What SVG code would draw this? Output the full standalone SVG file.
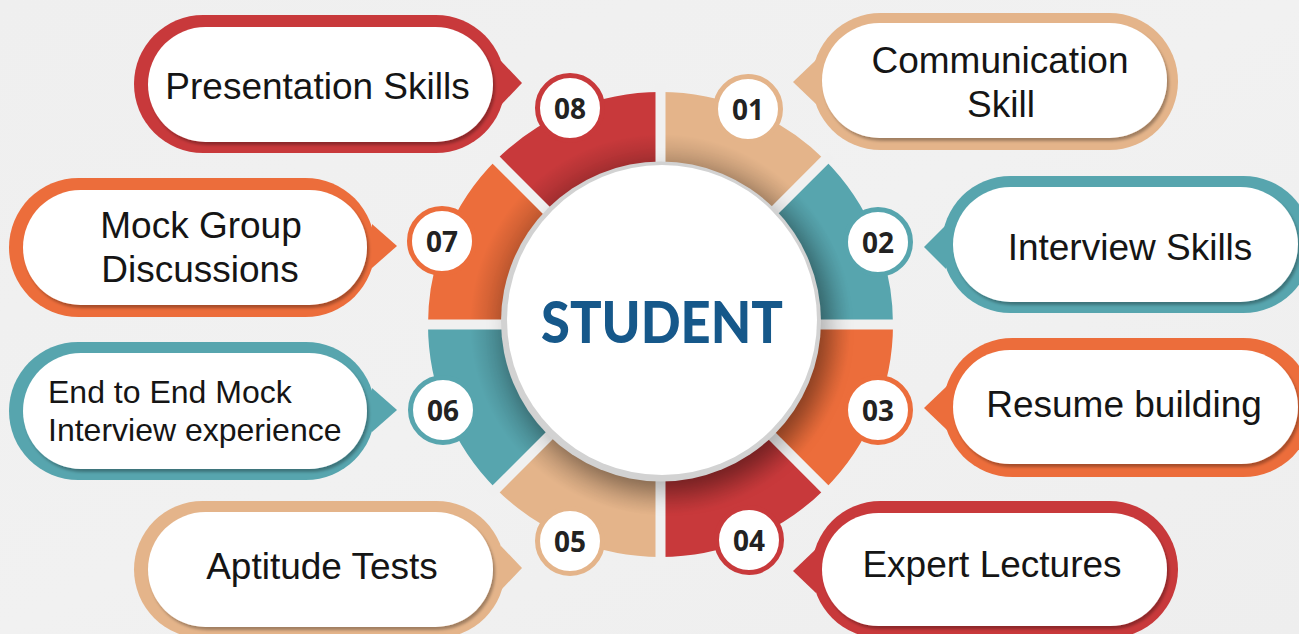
<svg xmlns="http://www.w3.org/2000/svg" width="1299" height="634" viewBox="0 0 1299 634">
<defs>
<linearGradient id="bg" x1="0" y1="0" x2="1" y2="1">
<stop offset="0" stop-color="#efefef"/>
<stop offset="0.5" stop-color="#f1f1f1"/>
<stop offset="1" stop-color="#eeeeee"/>
</linearGradient>
<filter id="pillsh" x="-10%" y="-20%" width="120%" height="150%">
<feDropShadow dx="2" dy="3" stdDeviation="1.6" flood-color="#000" flood-opacity="0.3"/>
</filter>
<filter id="blur12" x="-30%" y="-30%" width="160%" height="160%">
<feGaussianBlur stdDeviation="12"/>
</filter>
<radialGradient id="ringshade" cx="660.5" cy="324.5" r="232.5" gradientUnits="userSpaceOnUse">
<stop offset="0.66" stop-color="#000" stop-opacity="0.22"/>
<stop offset="0.82" stop-color="#000" stop-opacity="0"/>
</radialGradient>
<style>
.peach{fill:#e4b48a}
.teal{fill:#57a5ae}
.orange{fill:#ec6d3b}
.red{fill:#c8393b}
.bpeach{stroke:#e4b48a}
.bteal{stroke:#57a5ae}
.borange{stroke:#ec6d3b}
.bred{stroke:#c8393b}
.badge{fill:#ffffff;stroke-width:5}
.pill{fill:#ffffff;filter:url(#pillsh)}
.lbl{font-family:"Liberation Sans",Arial,sans-serif;font-size:37px;fill:#151515;text-anchor:middle}
.num{font-family:"Open Sans","Liberation Sans",sans-serif;font-weight:700;font-size:28px;fill:#222222;text-anchor:middle}
.gap{stroke:#f0f0f0;stroke-width:10}
</style>
</defs>
<rect x="0" y="0" width="1299" height="634" fill="url(#bg)"/>

<g id="ring">
<path class="peach" d="M660.5,92 A232.5,232.5 0 0 1 824.9,160.1 L759.49,225.51 A140,140 0 0 0 660.5,184.5 Z"/>
<path class="teal" d="M824.9,160.1 A232.5,232.5 0 0 1 893,324.5 L800.5,324.5 A140,140 0 0 0 759.49,225.51 Z"/>
<path class="orange" d="M893,324.5 A232.5,232.5 0 0 1 824.9,488.9 L759.49,423.49 A140,140 0 0 0 800.5,324.5 Z"/>
<path class="red" d="M824.9,488.9 A232.5,232.5 0 0 1 660.5,557 L660.5,464.5 A140,140 0 0 0 759.49,423.49 Z"/>
<path class="peach" d="M660.5,557 A232.5,232.5 0 0 1 496.1,488.9 L561.51,423.49 A140,140 0 0 0 660.5,464.5 Z"/>
<path class="teal" d="M496.1,488.9 A232.5,232.5 0 0 1 428,324.5 L520.5,324.5 A140,140 0 0 0 561.51,423.49 Z"/>
<path class="orange" d="M428,324.5 A232.5,232.5 0 0 1 496.1,160.1 L561.51,225.51 A140,140 0 0 0 520.5,324.5 Z"/>
<path class="red" d="M496.1,160.1 A232.5,232.5 0 0 1 660.5,92 L660.5,184.5 A140,140 0 0 0 561.51,225.51 Z"/>
<circle cx="660.5" cy="324.5" r="232.5" fill="url(#ringshade)"/>
<line class="gap" x1="660.5" y1="84" x2="660.5" y2="565"/>
<line class="gap" x1="420" y1="324.5" x2="901" y2="324.5"/>
<line class="gap" x1="490.4" y1="154.4" x2="830.6" y2="494.6"/>
<line class="gap" x1="830.6" y1="154.4" x2="490.4" y2="494.6"/>
</g>

<g id="center">
<circle cx="670" cy="332" r="160" fill="#000" opacity="0.28" filter="url(#blur12)"/>
<circle cx="661" cy="321.5" r="160" fill="#d2d2d2"/>
<circle cx="662" cy="320" r="155" fill="#ffffff"/>
<text x="662" y="343" font-family="Lato,'Open Sans',sans-serif" font-weight="900" font-size="58" fill="#16588a" text-anchor="middle" textLength="242" lengthAdjust="spacingAndGlyphs">STUDENT</text>
</g>

<g id="node01">
<rect class="peach" x="812" y="13" width="366" height="137" rx="68.5"/>
<rect class="pill" x="822" y="23" width="345" height="115" rx="57.5"/>
<text class="lbl" x="1000" y="73">Communication</text>
<text class="lbl" x="1001" y="117">Skill</text>
<circle class="badge bpeach" cx="748" cy="109" r="32.5"/>
<text class="num" x="748" y="120">01</text>
</g>

<g id="node02">
<rect class="teal" x="942" y="176" width="370" height="137" rx="68.5"/>
<rect class="pill" x="953" y="187" width="345" height="115" rx="57.5"/>
<text class="lbl" x="1130" y="260">Interview Skills</text>
<circle class="badge bteal" cx="878" cy="242" r="32.5"/>
<text class="num" x="878" y="253">02</text>
</g>

<g id="node03">
<rect class="orange" x="943" y="338" width="370" height="139" rx="69.5"/>
<rect class="pill" x="953" y="350" width="345" height="114" rx="57"/>
<text class="lbl" x="1124" y="417">Resume building</text>
<circle class="badge borange" cx="878" cy="410" r="32.5"/>
<text class="num" x="878" y="421">03</text>
</g>

<g id="node04">
<rect class="red" x="812" y="501" width="366" height="137" rx="68.5"/>
<rect class="pill" x="822" y="513" width="345" height="113" rx="56.5"/>
<text class="lbl" x="992" y="577">Expert Lectures</text>
<circle class="badge bred" cx="749" cy="540" r="32.5"/>
<text class="num" x="749" y="551">04</text>
</g>

<g id="node05">
<rect class="peach" x="134" y="501" width="371" height="137" rx="68.5"/>
<rect class="pill" x="148" y="512" width="345" height="115" rx="57.5"/>
<text class="lbl" x="322" y="579">Aptitude Tests</text>
<circle class="badge bpeach" cx="570" cy="541" r="32.5"/>
<text class="num" x="570" y="552">05</text>
</g>

<g id="node06">
<rect class="teal" x="9" y="342" width="366" height="138" rx="69"/>
<rect class="pill" x="23" y="353" width="344" height="116" rx="58"/>
<text class="lbl" x="48" y="403" style="font-size:32px;text-anchor:start">End to End Mock</text>
<text class="lbl" x="48" y="441" style="font-size:32px;text-anchor:start">Interview experience</text>
<circle class="badge bteal" cx="443" cy="410" r="32.5"/>
<text class="num" x="443" y="421">06</text>
</g>

<g id="node07">
<rect class="orange" x="9" y="178" width="366" height="139" rx="69.5"/>
<rect class="pill" x="23" y="190" width="344" height="115" rx="57.5"/>
<text class="lbl" x="201" y="238">Mock Group</text>
<text class="lbl" x="200" y="282">Discussions</text>
<circle class="badge borange" cx="442" cy="241" r="32.5"/>
<text class="num" x="442" y="252">07</text>
</g>

<g id="node08">
<rect class="red" x="134" y="15" width="371" height="138" rx="69"/>
<rect class="pill" x="148" y="27" width="345" height="115" rx="57.5"/>
<text class="lbl" x="317.5" y="99">Presentation Skills</text>
<circle class="badge bred" cx="570" cy="108" r="32.5"/>
<text class="num" x="570" y="119">08</text>
</g>

<g id="connectors">
<path class="peach" d="M816,60 L793,82 L816,104 Z"/>
<path class="teal" d="M946,225 L924,247 L946,269 Z"/>
<path class="orange" d="M947,386 L924,408 L947,430 Z"/>
<path class="red" d="M816,549 L793,571 L816,593 Z"/>
<path class="peach" d="M501,546 L522,568 L501,590 Z"/>
<path class="teal" d="M372,388 L397,410 L372,432 Z"/>
<path class="orange" d="M372,224 L397,246 L372,268 Z"/>
<path class="red" d="M501,61 L522,83 L501,105 Z"/>
</g>
</svg>
